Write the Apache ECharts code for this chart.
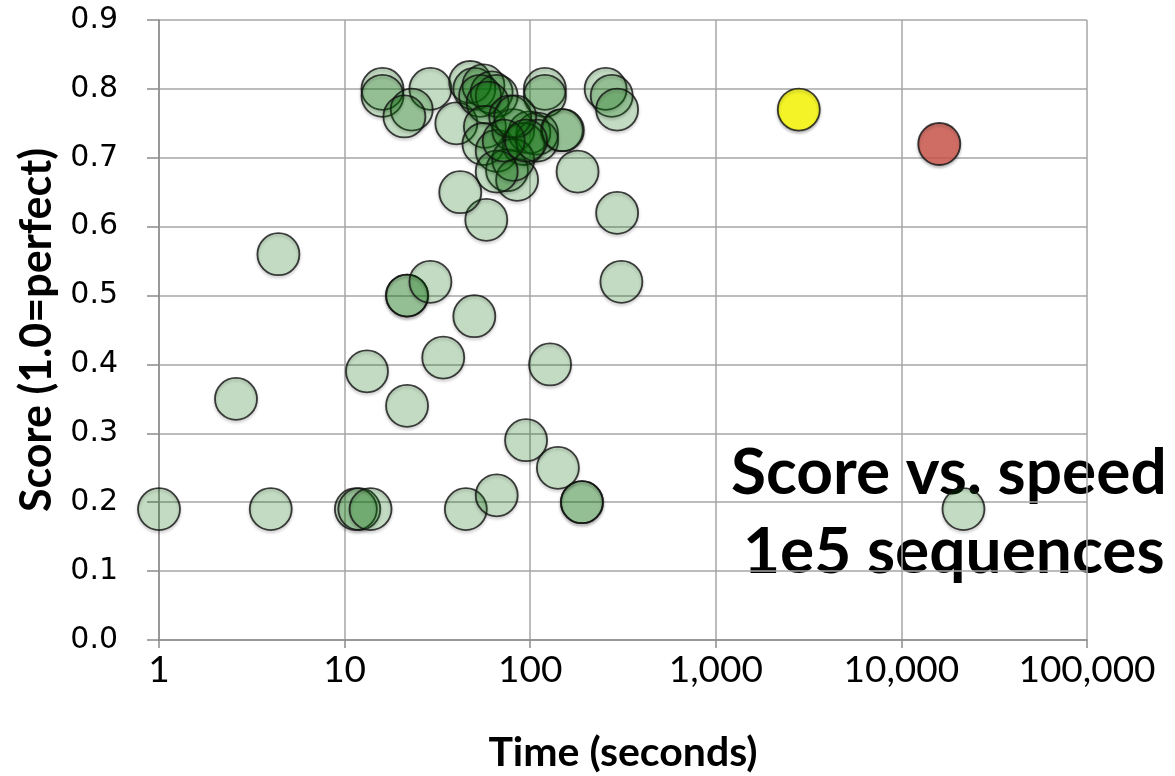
<!DOCTYPE html>
<html>
<head>
<meta charset="utf-8">
<script src="https://cdn.jsdelivr.net/npm/echarts@6/dist/echarts.min.js"></script>
<style>
  html, body { margin: 0; padding: 0; background: #fff; }
  #chart { width: 1175px; height: 776px; }
</style>
</head>
<body>
<div id="chart"></div>
<script>
// time (seconds) / score pairs
const greenTime = [
  1, 4, 11.5, 12, 13.8, 45, 66, 190, 190, 21600,
  2.6, 4.4, 13.2, 21.7, 21.7, 21.7, 29, 34, 50, 95, 141, 128, 310, 294,
  58, 42, 180,
  16, 16, 29, 23, 21, 40, 47.5, 50, 56, 62, 66, 53.7, 59, 120, 120, 255, 275, 294, 148,
  57, 56, 66, 81, 99, 109, 92, 75, 85, 81, 66, 109, 78, 83, 150, 72, 95
];
const greenScore = [
  0.19, 0.19, 0.19, 0.19, 0.19, 0.19, 0.21, 0.20, 0.20, 0.19,
  0.35, 0.56, 0.39, 0.34, 0.50, 0.50, 0.52, 0.41, 0.47, 0.29, 0.25, 0.40, 0.52, 0.62,
  0.61, 0.65, 0.68,
  0.80, 0.79, 0.80, 0.77, 0.76, 0.75, 0.81, 0.80, 0.805, 0.795, 0.79, 0.79, 0.78, 0.80, 0.79, 0.80, 0.79, 0.77, 0.74,
  0.745, 0.72, 0.71, 0.74, 0.737, 0.735, 0.72, 0.682, 0.668, 0.697, 0.68, 0.725, 0.76, 0.76, 0.74, 0.725, 0.725
];
const yellowPoint = [2800, 0.77];
const redPoint = [16000, 0.72];

const xTicks = [1, 10, 100, 1000, 10000, 100000];
const noteLines = ['Score vs. speed', '1e5 sequences'];

const chart = echarts.init(document.getElementById('chart'), null, { renderer: 'canvas' });

const dotStyle = {
  borderColor: '#111',
  borderWidth: 1.8,
  shadowColor: 'rgba(0,0,0,0.3)',
  shadowBlur: 3,
  shadowOffsetY: 2
};

const greenData = greenTime.map((t, i) => [t, greenScore[i]]);

chart.setOption({
  animation: false,
  grid: { left: 159, right: 88, top: 20, bottom: 136, containLabel: false, outerBoundsMode: 'none' },
  xAxis: {
    type: 'log',
    logBase: 10,
    min: xTicks[0],
    max: xTicks[xTicks.length - 1],
    name: 'Time (seconds)',
    nameLocation: 'middle',
    nameGap: 92,
    nameTextStyle: { fontFamily: 'Lato', fontWeight: 'bold', fontSize: 41, color: '#000' },
    axisLine: { lineStyle: { color: '#8c8c8c', width: 1.5 } },
    axisTick: { show: true, length: 8, lineStyle: { color: '#8c8c8c', width: 1.5 } },
    axisLabel: {
      margin: 12,
      fontFamily: 'Lato',
      fontSize: 37,
      color: '#000',
      formatter: v => Number(v).toLocaleString('en-US')
    },
    splitLine: { show: true, lineStyle: { color: '#a6a6a6', width: 1.5 } },
    minorTick: { show: false }
  },
  yAxis: {
    type: 'value',
    min: 0,
    max: 0.9,
    interval: 0.1,
    name: 'Score (1.0=perfect)',
    nameLocation: 'middle',
    nameGap: 100,
    nameTextStyle: { fontFamily: 'Lato', fontWeight: 'bold', fontSize: 43, color: '#000' },
    axisLine: { show: true, lineStyle: { color: '#8c8c8c', width: 1.5 } },
    axisTick: { show: true, length: 12, lineStyle: { color: '#8c8c8c', width: 1.5 } },
    axisLabel: {
      margin: 41,
      fontFamily: 'DejaVu Sans',
      fontSize: 30,
      color: '#000',
      formatter: v => v.toFixed(1)
    },
    splitLine: { show: true, lineStyle: { color: '#a6a6a6', width: 1.5 } }
  },
  series: [
    {
      type: 'scatter',
      symbolSize: 42,
      data: greenData,
      itemStyle: Object.assign({ color: 'rgba(0,128,0,0.24)' }, dotStyle)
    },
    {
      type: 'scatter',
      symbolSize: 42,
      data: [yellowPoint],
      itemStyle: Object.assign({ color: '#ffff00' }, dotStyle)
    },
    {
      type: 'scatter',
      symbolSize: 42,
      data: [redPoint],
      itemStyle: Object.assign({ color: '#d2584c' }, dotStyle)
    }
  ],
  graphic: [
    {
      type: 'text',
      left: 731,
      top: 441,
      style: { text: noteLines[0], fontFamily: 'Lato', fontWeight: 'bold', fontSize: 64, fill: '#000' }
    },
    {
      type: 'text',
      left: 743,
      top: 520,
      style: { text: noteLines[1], fontFamily: 'Lato', fontWeight: 'bold', fontSize: 64, fill: '#000' }
    }
  ]
});
</script>
</body>
</html>
